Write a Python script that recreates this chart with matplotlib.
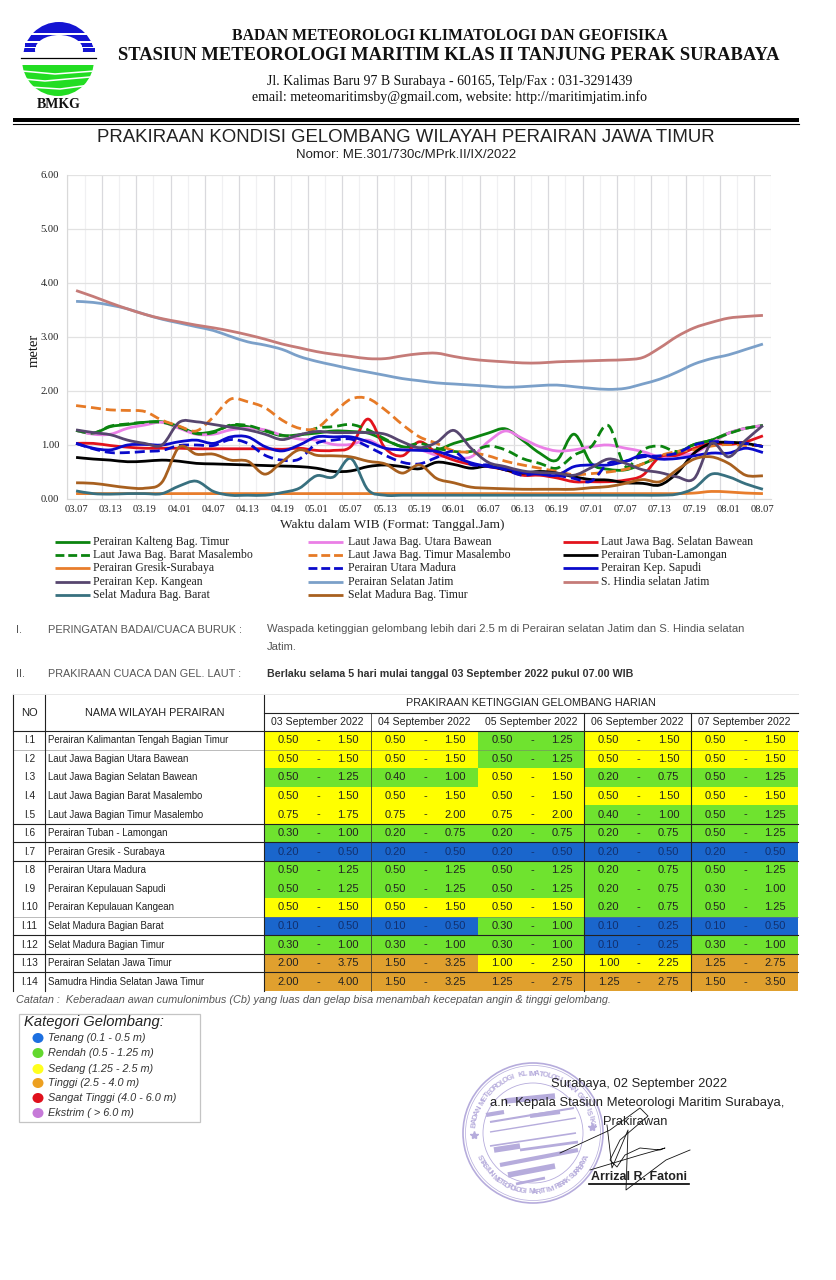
import matplotlib
matplotlib.use('Agg')
import matplotlib.pyplot as plt
from matplotlib.path import Path
from matplotlib.patches import PathPatch, Rectangle, Circle, Ellipse
import numpy as np

SANS = 'Liberation Sans'
SERIF = 'Liberation Serif'

time_labels = ['03.07', '03.13', '03.19', '04.01', '04.07', '04.13', '04.19', '05.01', '05.07', '05.13', '05.19',
               '06.01', '06.07', '06.13', '06.19', '07.01', '07.07', '07.13', '07.19', '08.01', '08.07']

kalteng = [1.27, 1.22, 1.34, 1.38, 1.42, 1.43, 1.34, 1.22, 1.25, 1.36, 1.34, 1.26, 1.17, 1.19, 1.22, 1.26, 1.25, 1.22, 1.09, 0.97, 0.94,
           0.91, 1.03, 1.12, 1.22, 1.30, 1.09, 0.85, 0.72, 1.20, 0.66, 0.55, 0.54, 0.65, 0.78, 0.85, 1.01, 1.09, 1.22, 1.31, 1.36]
utara_bawean = [1.27, 1.20, 1.20, 1.31, 1.37, 1.42, 1.31, 1.20, 1.20, 1.28, 1.31, 1.28, 1.18, 1.11, 1.09, 1.01, 1.01, 1.09, 0.94, 0.91, 0.91,
                0.81, 0.77, 0.78, 1.06, 1.26, 1.12, 0.97, 0.89, 0.91, 0.97, 1.00, 0.94, 0.88, 0.78, 0.81, 0.85, 1.03, 1.22, 1.31, 1.36]
selatan_bawean = [1.03, 1.03, 0.99, 0.96, 0.94, 0.94, 0.94, 0.93, 0.93, 0.93, 0.93, 0.93, 0.92, 0.94, 0.90, 0.90, 0.97, 1.48, 0.94, 0.80, 1.06,
                  0.85, 0.72, 0.64, 0.60, 0.54, 0.44, 0.44, 0.39, 0.32, 0.32, 0.32, 0.35, 0.44, 0.78, 0.81, 0.94, 1.03, 1.01, 1.06, 1.17]
barat_masalembo = [1.27, 1.22, 1.35, 1.39, 1.42, 1.42, 1.33, 1.21, 1.23, 1.37, 1.36, 1.27, 1.18, 1.18, 1.31, 1.34, 1.38, 1.28, 1.11, 0.97, 1.03,
                   0.94, 0.88, 0.88, 0.98, 0.91, 0.75, 0.66, 0.57, 0.81, 0.97, 1.36, 0.60, 0.91, 0.98, 0.88, 1.01, 1.09, 1.21, 1.31, 1.36]
timur_masalembo = [1.73, 1.69, 1.65, 1.64, 1.62, 1.46, 1.35, 1.26, 1.52, 1.85, 1.80, 1.69, 1.46, 1.31, 1.31, 1.59, 1.85, 1.86, 1.65, 1.38, 1.15,
                   1.03, 0.89, 0.86, 0.80, 0.70, 0.63, 0.57, 0.51, 0.45, 0.47, 0.50, 0.55, 0.65, 0.80, 0.88, 0.91, 0.98, 1.01, 0.99, 0.99]
tuban = [0.77, 0.74, 0.72, 0.69, 0.70, 0.72, 0.70, 0.66, 0.65, 0.64, 0.63, 0.62, 0.61, 0.60, 0.57, 0.51, 0.52, 0.60, 0.63, 0.60, 0.56,
         0.68, 0.64, 0.57, 0.61, 0.54, 0.48, 0.51, 0.48, 0.41, 0.36, 0.35, 0.30, 0.29, 0.26, 0.48, 0.85, 1.03, 1.05, 1.03, 0.97]
gresik = [0.10, 0.10, 0.10, 0.10, 0.10, 0.10, 0.10, 0.10, 0.10, 0.10, 0.10, 0.10, 0.10, 0.10, 0.10, 0.10, 0.10, 0.10, 0.10, 0.10, 0.10,
          0.10, 0.10, 0.10, 0.10, 0.10, 0.10, 0.10, 0.10, 0.10, 0.10, 0.10, 0.10, 0.10, 0.10, 0.10, 0.11, 0.14, 0.13, 0.11, 0.10]
utara_madura = [1.03, 0.93, 0.86, 0.86, 0.88, 0.90, 0.99, 1.00, 0.99, 1.10, 1.03, 0.81, 0.72, 0.74, 1.03, 1.09, 1.11, 0.97, 0.81, 0.68, 0.65,
                0.77, 0.88, 0.64, 0.63, 0.54, 0.44, 0.48, 0.44, 0.38, 0.33, 0.66, 0.70, 0.78, 0.80, 0.85, 1.00, 1.06, 1.05, 1.03, 0.97]
sapudi = [1.03, 0.94, 0.91, 1.00, 1.01, 1.00, 1.06, 1.09, 1.03, 1.15, 1.15, 0.97, 0.89, 1.00, 1.15, 1.15, 1.15, 1.06, 0.94, 0.91, 0.90,
          0.88, 0.78, 0.67, 0.60, 0.56, 0.49, 0.46, 0.44, 0.60, 0.63, 0.63, 0.70, 0.81, 0.74, 0.75, 0.80, 0.85, 0.85, 0.94, 0.86]
kangean = [1.28, 1.23, 1.19, 1.09, 1.03, 1.00, 1.42, 1.43, 1.38, 1.33, 1.28, 1.20, 1.10, 1.19, 1.25, 1.23, 1.23, 1.23, 1.20, 1.06, 0.95,
           1.05, 1.27, 0.94, 0.68, 0.60, 0.52, 0.49, 0.48, 0.44, 0.58, 0.74, 0.66, 0.54, 0.49, 0.41, 0.38, 1.03, 0.78, 1.09, 1.36]
selatan_jatim = [3.66, 3.64, 3.59, 3.52, 3.42, 3.33, 3.26, 3.19, 3.12, 3.01, 2.91, 2.85, 2.77, 2.64, 2.55, 2.48, 2.41, 2.35, 2.29, 2.23, 2.19,
                 2.15, 2.13, 2.11, 2.09, 2.07, 2.08, 2.10, 2.11, 2.08, 2.05, 2.03, 2.05, 2.13, 2.22, 2.35, 2.50, 2.60, 2.67, 2.77, 2.87]
hindia = [3.86, 3.75, 3.63, 3.52, 3.42, 3.34, 3.28, 3.22, 3.17, 3.11, 3.04, 2.96, 2.87, 2.80, 2.73, 2.68, 2.64, 2.60, 2.60, 2.65, 2.69,
          2.70, 2.64, 2.59, 2.56, 2.54, 2.52, 2.52, 2.54, 2.55, 2.56, 2.57, 2.58, 2.62, 2.80, 3.01, 3.17, 3.27, 3.35, 3.38, 3.40]
madura_barat = [0.15, 0.10, 0.09, 0.10, 0.10, 0.10, 0.24, 0.33, 0.14, 0.07, 0.07, 0.07, 0.12, 0.20, 0.43, 0.41, 0.75, 0.17, 0.07, 0.07, 0.07,
                0.07, 0.07, 0.07, 0.07, 0.07, 0.07, 0.07, 0.07, 0.07, 0.07, 0.07, 0.07, 0.07, 0.07, 0.09, 0.20, 0.46, 0.41, 0.28, 0.18]
madura_timur = [0.30, 0.29, 0.25, 0.21, 0.20, 0.31, 0.96, 0.83, 0.83, 0.72, 0.70, 0.46, 0.69, 0.91, 0.81, 0.80, 0.78, 0.70, 0.65, 0.48, 0.63,
                0.38, 0.30, 0.22, 0.20, 0.19, 0.18, 0.18, 0.18, 0.18, 0.21, 0.23, 0.29, 0.36, 0.32, 0.54, 0.74, 0.78, 0.66, 0.44, 0.43]

series_names = ['Perairan Kalteng Bag. Timur', 'Laut Jawa Bag. Utara Bawean', 'Laut Jawa Bag. Selatan Bawean',
                'Laut Jawa Bag. Barat Masalembo', 'Laut Jawa Bag. Timur Masalembo', 'Perairan Tuban-Lamongan',
                'Perairan Gresik-Surabaya', 'Perairan Utara Madura', 'Perairan Kep. Sapudi',
                'Perairan Kep. Kangean', 'Perairan Selatan Jatim', 'S. Hindia selatan Jatim',
                'Selat Madura Bag. Barat', 'Selat Madura Bag. Timur']
series_values = [kalteng, utara_bawean, selatan_bawean, barat_masalembo, timur_masalembo, tuban, gresik,
                 utara_madura, sapudi, kangean, selatan_jatim, hindia, madura_barat, madura_timur]
series_colors = ['#0b840f', '#ea7fe6', '#e2131c', '#0b840f', '#e67a26', '#000000', '#e87d2c',
                 '#0a0acb', '#0a0acb', '#57466f', '#7ba0c9', '#c57b78', '#38707f', '#a8601f']
series_dashed = [False, False, False, True, True, False, False, True, False, False, False, False, False, False]

day_labels = ['03 September 2022', '04 September 2022', '05 September 2022', '06 September 2022', '07 September 2022']
row_no = ['I.1', 'I.2', 'I.3', 'I.4', 'I.5', 'I.6', 'I.7', 'I.8', 'I.9', 'I.10', 'I.11', 'I.12', 'I.13', 'I.14']
row_names = ['Perairan Kalimantan Tengah Bagian Timur', 'Laut Jawa Bagian Utara Bawean', 'Laut Jawa Bagian Selatan Bawean',
             'Laut Jawa Bagian Barat Masalembo', 'Laut Jawa Bagian Timur Masalembo', 'Perairan Tuban - Lamongan',
             'Perairan Gresik - Surabaya', 'Perairan Utara Madura', 'Perairan Kepulauan Sapudi', 'Perairan Kepulauan Kangean',
             'Selat Madura Bagian Barat', 'Selat Madura Bagian Timur', 'Perairan Selatan Jawa Timur',
             'Samudra Hindia Selatan Jawa Timur']
wave_low = [[0.50, 0.50, 0.50, 0.50, 0.50], [0.50, 0.50, 0.50, 0.50, 0.50], [0.50, 0.40, 0.50, 0.20, 0.50],
            [0.50, 0.50, 0.50, 0.50, 0.50], [0.75, 0.75, 0.75, 0.40, 0.50], [0.30, 0.20, 0.20, 0.20, 0.50],
            [0.20, 0.20, 0.20, 0.20, 0.20], [0.50, 0.50, 0.50, 0.20, 0.50], [0.50, 0.50, 0.50, 0.20, 0.30],
            [0.50, 0.50, 0.50, 0.20, 0.50], [0.10, 0.10, 0.30, 0.10, 0.10], [0.30, 0.30, 0.30, 0.10, 0.30],
            [2.00, 1.50, 1.00, 1.00, 1.25], [2.00, 1.50, 1.25, 1.25, 1.50]]
wave_high = [[1.50, 1.50, 1.25, 1.50, 1.50], [1.50, 1.50, 1.25, 1.50, 1.50], [1.25, 1.00, 1.50, 0.75, 1.25],
             [1.50, 1.50, 1.50, 1.50, 1.50], [1.75, 2.00, 2.00, 1.00, 1.25], [1.00, 0.75, 0.75, 0.75, 1.25],
             [0.50, 0.50, 0.50, 0.50, 0.50], [1.25, 1.25, 1.25, 0.75, 1.25], [1.25, 1.25, 1.25, 0.75, 1.00],
             [1.50, 1.50, 1.50, 0.75, 1.25], [0.50, 0.50, 1.00, 0.25, 0.50], [1.00, 1.00, 1.00, 0.25, 1.00],
             [3.75, 3.25, 2.50, 2.25, 2.75], [4.00, 3.25, 2.75, 2.75, 3.50]]

category_names = ['Tenang (0.1 - 0.5 m)', 'Rendah (0.5 - 1.25 m)', 'Sedang (1.25 - 2.5 m)', 'Tinggi (2.5 - 4.0 m)',
                  'Sangat Tinggi (4.0 - 6.0 m)', 'Ekstrim ( > 6.0 m)']
category_colors = ['#1c6fe0', '#63d82e', '#ffff1e', '#eda020', '#e0101c', '#c67ad8']


def cell_color(high):
    if high <= 0.5:
        return '#1a66cc'
    if high <= 1.25:
        return '#6fe32f'
    if high <= 2.5:
        return '#ffff00'
    return '#e0a02e'


def smooth_path(ys):
    # excel style smoothed line, bezier segments through the values
    ys = np.array(ys)
    xs = np.arange(len(ys), dtype=float)
    pts = np.column_stack([xs, ys])
    verts = [pts[0]]
    codes = [Path.MOVETO]
    for i in range(len(pts) - 1):
        prev = pts[max(i - 1, 0)]
        nxt = pts[min(i + 2, len(pts) - 1)]
        verts += [pts[i] + (pts[i + 1] - prev) / 6, pts[i + 1] - (nxt - pts[i]) / 6, pts[i + 1]]
        codes += [Path.CURVE4] * 3
    return Path(verts, codes)


fig = plt.figure(figsize=(8.37, 12.80), dpi=100)
bg = fig.add_axes([0, 0, 1, 1])
bg.set_xlim(0, 837)
bg.set_ylim(1280, 0)
bg.axis('off')


def txt(x, y, s, size=8, family=SANS, color='#111111', ha='left', weight='normal', style='normal', **kw):
    return bg.text(x, y, s, fontsize=size, family=family, color=color, ha=ha, va='center', weight=weight, style=style, **kw)


# logo
dome = Circle((59, 58), 36, color='#1414d2', lw=0)
bg.add_patch(dome)
dome.set_clip_path(Rectangle((0, 0), 837, 52, transform=bg.transData))
bg.add_patch(Ellipse((59, 50), 48, 30, color='white', lw=0))
for y0, y1 in [(33, 34.5), (41, 42.5), (47, 48)]:
    bg.add_patch(Rectangle((20, y0), 78, y1 - y0, color='white', lw=0))
for x0, x1, y0, y1 in [(25, 36, 42.5, 47), (82, 92, 42.5, 47), (30, 34, 48, 50), (86, 95, 48, 52)]:
    bg.add_patch(Rectangle((x0, y0), x1 - x0, y1 - y0, color='#1414d2', lw=0))
bg.plot([21, 96], [58, 58], color='black', lw=0.9)
bowl = Circle((58, 60), 36, color='#22dd22', lw=0)
bg.add_patch(bowl)
bowl.set_clip_path(Rectangle((0, 65), 837, 31, transform=bg.transData))
for xs_, ys_ in [([22, 55, 95], [71, 74, 71]), ([24, 45, 90], [79, 81, 77]), ([30, 60, 90], [87, 89, 85])]:
    bg.plot(xs_, ys_, color='white', lw=1.1)
txt(58.5, 104, 'BMKG', size=10, family=SERIF, weight='bold', ha='center', color='#111111')

# letterhead
txt(450, 36, 'BADAN METEOROLOGI KLIMATOLOGI DAN GEOFISIKA', size=11.3, family=SERIF, weight='bold', ha='center')
txt(449, 56, 'STASIUN METEOROLOGI MARITIM KLAS II TANJUNG PERAK SURABAYA', size=13.35, family=SERIF, weight='bold', ha='center')
txt(450, 81, 'Jl. Kalimas Baru 97 B Surabaya - 60165, Telp/Fax : 031-3291439', size=10, family=SERIF, ha='center')
txt(450, 97, 'email: meteomaritimsby@gmail.com, website: http://maritimjatim.info', size=10, family=SERIF, ha='center')
bg.add_patch(Rectangle((13, 117.5), 786, 4.5, color='black', lw=0))
bg.plot([13, 799], [123.5, 123.5], color='black', lw=0.8)
txt(406, 137, 'PRAKIRAAN KONDISI GELOMBANG WILAYAH PERAIRAN JAWA TIMUR', size=13.4, ha='center', color='#222222')
txt(406, 155, 'Nomor: ME.301/730c/MPrk.II/IX/2022', size=9.5, ha='center', color='#222222')

# chart
ax = fig.add_axes([67.5 / 837, 1 - 499 / 1280, 704 / 837, 324 / 1280])
ax.patch.set_alpha(0)
ax.set_xlim(-0.5, 40.5)
ax.set_ylim(0, 6)
edges = np.arange(-0.5, 41, 1)
for k, e in enumerate(edges):
    ax.axvline(e, color='#d9d9dd' if k % 2 == 0 else '#f0f0f2', lw=0.9, zorder=0)
ax.set_yticks(range(7))
ax.set_yticklabels(['%.2f' % v for v in range(7)], family=SERIF, fontsize=7.6, color='#222222')
ax.set_xticks(np.arange(0, 41, 2))
ax.set_xticklabels(time_labels, family=SERIF, fontsize=7.6, color='#222222')
ax.tick_params(length=0, pad=4)
ax.tick_params(axis='y', pad=6)
ax.grid(axis='y', color='#e2e2e2', lw=0.9, zorder=0)
for side in ['top', 'right']:
    ax.spines[side].set_visible(False)
for side in ['left', 'bottom']:
    ax.spines[side].set_color('#d9d9d9')
for vals, col, dashed in zip(series_values, series_colors, series_dashed):
    ls = (0, (3.6, 1.8)) if dashed else '-'
    ax.add_patch(PathPatch(smooth_path(vals), fill=False, edgecolor=col, lw=2.0, linestyle=ls, capstyle='butt', zorder=3))
txt(34, 350, 'meter', size=10.5, family=SERIF, ha='center', rotation=90)
txt(392.5, 525, 'Waktu dalam WIB (Format: Tanggal.Jam)', size=9.5, family=SERIF, ha='center', color='#222222')

# legend, filled row by row
legend_x = [55, 308, 563]
legend_y = [542, 555, 568, 582, 595]
for k, (name, col, dashed) in enumerate(zip(series_names, series_colors, series_dashed)):
    hx = legend_x[k % 3]
    hy = legend_y[k // 3]
    bg.plot([hx, hx + 35], [hy, hy], color=col, lw=2.0, ls=(0, (3.2, 1.4)) if dashed else '-', dash_capstyle='butt', solid_capstyle='butt')
    txt(hx + 38 + (2 if k % 3 == 1 else 0), hy, name, size=8.5, family=SERIF, color='#222222')

# warning text
grey = '#555555'
txt(16, 630, 'I.', size=7.9, color=grey)
txt(48, 630, 'PERINGATAN BADAI/CUACA BURUK :', size=7.9, color=grey)
txt(267, 629, 'Waspada ketinggian gelombang lebih dari 2.5 m di Perairan selatan Jatim dan S. Hindia selatan', size=8.15, color=grey)
txt(267, 647, 'Jatim.', size=8.15, color=grey)
txt(16, 674, 'II.', size=7.9, color=grey)
txt(48, 674, 'PRAKIRAAN CUACA DAN GEL. LAUT :', size=7.87, color=grey)
txt(267, 674, 'Berlaku selama 5 hari mulai tanggal 03 September 2022 pukul 07.00 WIB', size=7.67, color='#333333', weight='bold')

# table
col_x = [264, 371, 478, 584.5, 691, 798]
tab_top = 731
row_h = (991 - 731) / 14
for r in range(14):
    ry = tab_top + r * row_h
    txt(29.5, ry + row_h / 2, row_no[r], size=7.3, ha='center', color='#222222')
    txt(48, ry + row_h / 2, row_names[r], size=6.95, color='#222222')
    for d in range(5):
        fc = cell_color(wave_high[r][d])
        bg.add_patch(Rectangle((col_x[d], ry), col_x[d + 1] - col_x[d], row_h, color=fc, lw=0))
        tc = '#12306e' if fc == '#1a66cc' else '#222222'
        txt(col_x[d] + 24, ry + row_h / 2, '%.2f' % wave_low[r][d], size=8, ha='center', color=tc)
        txt(col_x[d] + 54, ry + row_h / 2, '-', size=8, ha='center', color=tc)
        txt(col_x[d] + 84, ry + row_h / 2, '%.2f' % wave_high[r][d], size=8, ha='center', color=tc)
dark_rows = [0, 5, 6, 7, 11, 12, 13]
mid_rows = [1, 10]
for r in range(14):
    ry = tab_top + r * row_h
    if r in dark_rows:
        bg.plot([13, 798], [ry, ry], color='#222222', lw=0.8)
    elif r in mid_rows:
        bg.plot([13, 798], [ry, ry], color='#777777', lw=0.5, alpha=0.7)
for x in [13.5, 45, 264, 584.5, 691]:
    bg.plot([x, x], [694 if x < 265 else 713, 991], color='#222222', lw=0.8)
bg.plot([371, 371], [713, 991], color='#333333', lw=0.55)
bg.plot([264, 798], [713, 713], color='#222222', lw=0.8)
bg.plot([13, 798], [694, 694], color='#e8e8e8', lw=0.7)
txt(29.5, 713, 'NO', size=8, ha='center', color='#222222')
txt(155, 713, 'NAMA WILAYAH PERAIRAN', size=7.85, ha='center', color='#222222')
txt(531, 703, 'PRAKIRAAN KETINGGIAN GELOMBANG HARIAN', size=7.8, ha='center', color='#222222')
for d in range(5):
    txt((col_x[d] + col_x[d + 1]) / 2, 722, day_labels[d], size=7.6, ha='center', color='#222222')
txt(16, 1000, 'Catatan :  Keberadaan awan cumulonimbus (Cb) yang luas dan gelap bisa menambah kecepatan angin & tinggi gelombang.',
    size=7.8, style='italic', color='#555555')

# category box
bg.add_patch(Rectangle((19, 1014), 181, 108, fc='white', ec='#c4c4c4', lw=0.9))
txt(24, 1022, 'Kategori Gelombang:', size=10.6, style='italic', color='#222222')
cat_y = [1038, 1053, 1069, 1083, 1098, 1113]
for name, col, cy in zip(category_names, category_colors, cat_y):
    bg.add_patch(Ellipse((38, cy), 11, 10, color=col, lw=0))
    txt(48, cy, name, size=7.85, style='italic', color='#333333')

# stamp
stamp = '#b6acdc'
cx, cy = 533, 1133
bg.add_patch(Circle((cx, cy), 70, fill=False, ec=stamp, lw=1.2))
bg.add_patch(Circle((cx, cy), 67.5, fill=False, ec=stamp, lw=0.5))
bg.add_patch(Circle((cx, cy), 50, fill=False, ec=stamp, lw=0.6))


def arc_text(s, a0, a1, r, top=True):
    for ch, a in zip(s, np.linspace(a0, a1, len(s))):
        t = np.radians(a)
        rot = a - 90 if top else a + 90
        bg.text(cx + r * np.cos(t), cy - r * np.sin(t), ch, fontsize=5.6, family=SANS, weight='bold', color=stamp,
                ha='center', va='center', rotation=rot)


arc_text('BADAN METEOROLOGI KLIMATOLOGI DAN GEOFISIKA', 172, 8, 59)
arc_text('STASIUN METEOROLOGI MARITIM PERAK SURABAYA', 205, 335, 59, top=False)
bg.plot([cx - 59, cx + 59], [cy + 2, cy - 6], ls='none', marker='*', ms=6, color=stamp)
for x0, y0, x1, y1, w in [(490, 1122, 574, 1108, 1.5), (490, 1132, 576, 1118, 1.0), (494, 1150, 520, 1146, 4),
                          (520, 1150, 578, 1142, 2), (500, 1165, 578, 1150, 3), (508, 1175, 555, 1166, 4),
                          (486, 1115, 504, 1112, 3), (530, 1116, 560, 1112, 3), (505, 1101, 555, 1096, 4),
                          (516, 1184, 545, 1178, 2), (490, 1146, 576, 1133, 1.2)]:
    bg.plot([x0, x1], [y0, y1], color=stamp, lw=w, solid_capstyle='butt')

# signature block
sig = '#111111'
txt(639, 1084, 'Surabaya, 02 September 2022', size=9.3, ha='center', color='#222222')
txt(637.5, 1103, 'a.n. Kepala Stasiun Meteorologi Maritim Surabaya,', size=9.35, ha='center', color='#222222')
txt(635, 1122, 'Prakirawan', size=9.3, ha='center', color='#222222')
txt(639, 1177, 'Arrizal R. Fatoni', size=8.9, ha='center', weight='bold', color='#222222')
bg.plot([589, 689], [1184, 1184], color='black', lw=1.2)
bg.plot([560, 610, 640, 648, 620, 610, 617, 625, 640, 660, 665, 640, 590],
        [1153, 1130, 1108, 1116, 1140, 1160, 1167, 1155, 1148, 1150, 1148, 1155, 1170], color=sig, lw=0.6)
bg.plot([607, 612, 628, 626, 666, 690], [1125, 1168, 1130, 1190, 1160, 1150], color=sig, lw=0.6)

plt.savefig('out.png', dpi=100)
